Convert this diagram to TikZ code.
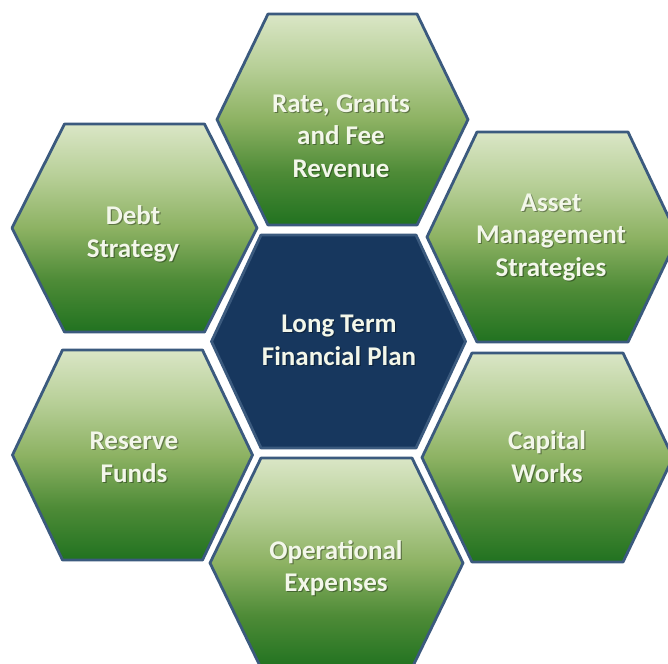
\documentclass[tikz,border=0pt]{standalone}
\usepackage{fontspec}
\setmainfont{Carlito}
\definecolor{rim}{HTML}{3B5A7E}
\definecolor{navy}{HTML}{17375E}
\definecolor{g0}{HTML}{217220}
\definecolor{g1}{HTML}{4E8B37}
\definecolor{g2}{HTML}{8DB263}
\definecolor{g3}{HTML}{B7CF97}
\definecolor{g4}{HTML}{DAE6C6}
\definecolor{ink}{HTML}{F3F7EA}
% olive-green leaf gradient, dark at the bottom, pale at the top
\pgfdeclareverticalshading{leafgrad}{100bp}{color(0bp)=(g0); color(25bp)=(g0);
  color(37.5bp)=(g1); color(50bp)=(g2); color(62.5bp)=(g3); color(75bp)=(g4);
  color(100bp)=(g4)}
% hexagon: style, centre, half width, half top edge, half height
\newcommand\hexcell[5]{%
  \path[#1,shift={#2}] (-#3,0) -- (-#4,-#5) -- (#4,-#5) -- (#3,0)
    -- (#4,#5) -- (-#4,#5) -- cycle;}
\begin{document}
\begin{tikzpicture}[x=1pt,y=-1pt,
  leaf/.style={draw=rim, line width=2.8pt, line join=round, shading=leafgrad},
  core/.style={draw=rim, line width=2.8pt, line join=round, fill=navy},
  caption/.style={font=\bfseries\fontsize{27}{32.5}\selectfont, text=ink,
    align=center, inner sep=0pt, anchor=base},
  shadowtext/.style={caption, text=black, opacity=0.35}]
\useasboundingbox (0,0) rectangle (668,663);
\clip (0,0) rectangle (668,663);
\fill[white] (0,0) rectangle (668,663);

% outer ring of green cells and the central cell
\hexcell{leaf}{(342.5,119.5)}{125.5}{74.5}{105.5}
\hexcell{leaf}{(134.5,228)}{122.5}{70}{104}
\hexcell{leaf}{(552.5,237)}{125.5}{75.5}{105}
\hexcell{core}{(338.5,341.5)}{127}{77.5}{106.5}
\hexcell{leaf}{(132.5,455)}{120}{70}{105}
\hexcell{leaf}{(547.5,457.5)}{125.5}{75.5}{104.5}
\hexcell{leaf}{(336.5,563)}{126.5}{75.5}{105}

% labels (soft shadow underneath, then the text)
\foreach \nm/\x/\y/\txt in {
  rate/341/177/{Rate, Grants\\and Fee\\Revenue},
  debt/133/257/{Debt\\Strategy},
  asset/551/276/{Asset\\Management\\Strategies},
  plan/339/365/{Long Term\\Financial Plan},
  reserve/134/482/{Reserve\\Funds},
  works/547/482/{Capital\\Works},
  opex/336/591.5/{Operational\\Expenses}}{
  \node[shadowtext] (\nm-sh) at (\x+1.2,\y+1.2) {\txt};
  \node[caption] (\nm) at (\x,\y) {\txt};
}
\end{tikzpicture}
\end{document}
